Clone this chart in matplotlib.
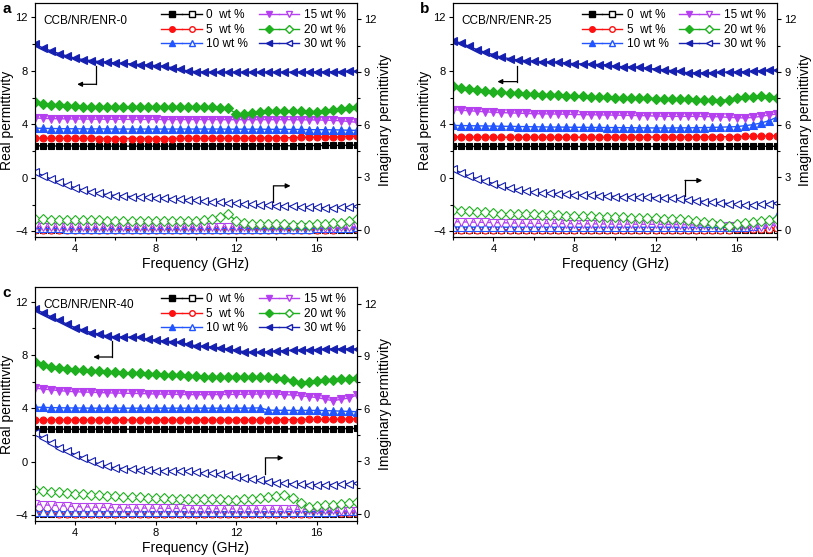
import numpy as np
import matplotlib
matplotlib.use('Agg')
import matplotlib.pyplot as plt
from matplotlib.lines import Line2D
from matplotlib.legend_handler import HandlerTuple
from matplotlib.ticker import MultipleLocator

plt.rcParams['font.family'] = ['Liberation Sans', 'DejaVu Sans']
plt.rcParams['font.size'] = 8
plt.rcParams['xtick.direction'] = 'out'
plt.rcParams['ytick.direction'] = 'out'

# frequency grid (GHz), 0.4 GHz step as measured
freq = np.round(np.arange(2.0, 18.01, 0.4), 1)

labels = ['0  wt %', '5  wt %', '10 wt %', '15 wt %', '20 wt %', '30 wt %']
colors = ['#000000', '#ff1010', '#2255ff', '#b540f0', '#1fb01f', '#1620b0']
markers = ['s', 'o', '^', 'v', 'D', '<']
msizes = [4.5, 5, 5.5, 5.5, 5, 5.5]

# ---------------- panel a : CCB/NR/ENR-0 ----------------
a_r0 = [2.40,2.39,2.38,2.38,2.38,2.38,2.37,2.37,2.37,2.37, 2.37,2.37,2.37,2.37,2.37,2.37,2.37,2.37,2.38,2.38,
        2.38,2.38,2.38,2.38,2.38,2.38,2.39,2.39,2.39,2.39, 2.40,2.40,2.40,2.41,2.41,2.41,2.42,2.42,2.43,2.44, 2.45]
a_r5 = [2.98,2.97,2.96,2.96,2.95,2.95,2.95,2.95,2.94,2.94, 2.94,2.94,2.94,2.94,2.94,2.94,2.94,2.94,2.95,2.95,
        2.95,2.95,2.95,2.95,2.96,2.96,2.97,2.97,2.98,2.99, 3.00,3.00,3.01,3.02,3.03,3.04,3.05,3.06,3.08,3.10, 3.12]
a_r10 = [3.72,3.70,3.69,3.68,3.67,3.67,3.66,3.66,3.66,3.66, 3.65,3.65,3.65,3.65,3.65,3.65,3.65,3.65,3.65,3.65,
         3.65,3.65,3.65,3.65,3.64,3.64,3.64,3.64,3.64,3.63, 3.63,3.63,3.62,3.62,3.61,3.60,3.60,3.59,3.58,3.56, 3.55]
a_r15 = [4.48,4.45,4.43,4.42,4.41,4.40,4.40,4.39,4.39,4.38, 4.38,4.38,4.37,4.37,4.37,4.37,4.36,4.36,4.36,4.36,
         4.36,4.36,4.36,4.35,4.35,4.35,4.35,4.35,4.35,4.35, 4.35,4.35,4.35,4.34,4.34,4.33,4.32,4.30,4.27,4.22, 4.15]
a_r20 = [5.65,5.55,5.47,5.42,5.38,5.35,5.33,5.32,5.31,5.30, 5.30,5.29,5.29,5.28,5.28,5.28,5.27,5.27,5.27,5.27,
         5.27,5.27,5.28,5.26,5.20,4.80,4.78,4.85,4.92,4.97, 5.00,5.00,5.00,4.98,4.95,4.95,5.02,5.08,5.15,5.22, 5.30]
a_r30 = [10.00,9.72,9.50,9.30,9.12,8.95,8.85,8.77,8.70,8.65, 8.60,8.56,8.52,8.48,8.44,8.40,8.35,8.25,8.12,8.00,
         7.95,7.92,7.90,7.90,7.90,7.90,7.90,7.90,7.90,7.90, 7.90,7.91,7.91,7.92,7.92,7.92,7.93,7.94,7.95,7.96, 7.97]
a_i0 = [0.00]*41
a_i5 = [0.02,0.02,0.01,0.01,0.01,0.01,0.01,0.01,0.01,0.01, 0.01,0.01,0.01,0.01,0.01,0.01,0.01,0.01,0.01,0.01,
        0.01,0.01,0.01,0.01,0.01,0.01,0.01,0.01,0.01,0.01, 0.01,0.01,0.01,0.01,0.01,0.02,0.02,0.02,0.03,0.03, 0.04]
a_i10 = [0.10,0.09,0.09,0.09,0.08,0.08,0.08,0.08,0.08,0.08, 0.08,0.08,0.08,0.08,0.08,0.08,0.08,0.08,0.08,0.08,
         0.08,0.08,0.08,0.08,0.08,0.08,0.08,0.08,0.08,0.08, 0.08,0.08,0.08,0.08,0.08,0.09,0.09,0.10,0.11,0.12, 0.14]
a_i15 = [0.20,0.19,0.19,0.18,0.18,0.18,0.18,0.18,0.18,0.18, 0.18,0.18,0.18,0.18,0.18,0.18,0.18,0.18,0.18,0.18,
         0.18,0.18,0.18,0.18,0.18,0.18,0.17,0.17,0.17,0.17, 0.17,0.17,0.16,0.16,0.15,0.14,0.13,0.13,0.14,0.16, 0.20]
a_i20 = [0.62,0.60,0.58,0.57,0.56,0.55,0.55,0.54,0.54,0.53, 0.53,0.52,0.52,0.52,0.51,0.51,0.51,0.51,0.51,0.51,
         0.52,0.54,0.60,0.72,0.90,0.52,0.40,0.35,0.33,0.32, 0.32,0.31,0.30,0.30,0.30,0.31,0.33,0.37,0.42,0.50, 0.60]
a_i30 = [3.30,3.10,2.90,2.72,2.55,2.40,2.27,2.17,2.08,2.01, 1.96,1.93,1.90,1.88,1.86,1.84,1.81,1.78,1.75,1.72,
         1.68,1.64,1.60,1.57,1.54,1.51,1.48,1.45,1.43,1.41, 1.38,1.36,1.34,1.32,1.30,1.28,1.27,1.27,1.28,1.31, 1.35]

# ---------------- panel b : CCB/NR/ENR-25 ----------------
b_r0 = [2.36,2.35,2.35,2.35,2.35,2.35,2.35,2.35,2.35,2.35, 2.35,2.35,2.35,2.35,2.35,2.35,2.35,2.35,2.35,2.35,
        2.35,2.35,2.35,2.35,2.35,2.35,2.35,2.35,2.35,2.35, 2.35,2.35,2.35,2.35,2.35,2.35,2.35,2.35,2.36,2.36, 2.36]
b_r5 = [3.07,3.06,3.05,3.05,3.05,3.04,3.04,3.04,3.04,3.04, 3.04,3.04,3.04,3.04,3.04,3.04,3.04,3.04,3.04,3.04,
        3.04,3.04,3.05,3.05,3.05,3.05,3.05,3.05,3.06,3.06, 3.06,3.07,3.07,3.08,3.08,3.09,3.10,3.11,3.12,3.14, 3.16]
b_r10 = [3.93,3.91,3.90,3.89,3.88,3.87,3.86,3.85,3.84,3.83, 3.82,3.81,3.80,3.80,3.79,3.78,3.78,3.77,3.77,3.76,
         3.76,3.75,3.75,3.74,3.74,3.73,3.73,3.73,3.74,3.74, 3.75,3.76,3.77,3.79,3.81,3.83,3.90,3.98,4.10,4.28, 4.55]
b_r15 = [5.10,5.06,5.02,4.98,4.94,4.90,4.88,4.86,4.84,4.82, 4.80,4.79,4.78,4.77,4.76,4.74,4.73,4.72,4.71,4.70,
         4.69,4.68,4.67,4.66,4.65,4.62,4.61,4.60,4.60,4.60, 4.60,4.59,4.58,4.56,4.53,4.50,4.48,4.52,4.60,4.70, 4.78]
b_r20 = [6.85,6.75,6.68,6.60,6.52,6.44,6.40,6.36,6.33,6.30, 6.26,6.23,6.20,6.17,6.14,6.11,6.09,6.06,6.04,6.02,
         6.00,5.98,5.97,5.96,5.95,5.93,5.92,5.91,5.90,5.88, 5.86,5.82,5.80,5.78,5.86,5.96,6.03,6.07,6.10,6.05, 5.98]
b_r30 = [10.26,10.09,9.84,9.59,9.39,9.22,9.02,8.92,8.82,8.77, 8.72,8.69,8.67,8.64,8.59,8.54,8.52,8.50,8.48,8.45,
         8.34,8.32,8.29,8.27,8.20,8.14,8.09,8.02,7.97,7.85, 7.85,7.86,7.88,7.90,7.91,7.92,7.95,7.98,8.02,8.04, 8.05]
b_i0 = [0.00]*41
b_i5 = [0.01,0.01,0.01,0.01,0.01,0.01,0.01,0.01,0.01,0.01, 0.01,0.01,0.01,0.01,0.01,0.01,0.01,0.01,0.01,0.01,
        0.01,0.01,0.01,0.01,0.01,0.01,0.01,0.01,0.01,0.01, 0.01,0.01,0.02,0.02,0.02,0.03,0.03,0.04,0.05,0.07, 0.10]
b_i10 = [0.17,0.17,0.16,0.16,0.16,0.16,0.16,0.15,0.15,0.15, 0.15,0.15,0.15,0.15,0.15,0.15,0.15,0.15,0.15,0.15,
         0.15,0.15,0.15,0.15,0.15,0.15,0.15,0.15,0.15,0.15, 0.15,0.15,0.15,0.15,0.15,0.16,0.18,0.22,0.32,0.50, 0.80]
b_i15 = [0.47,0.46,0.45,0.44,0.43,0.42,0.41,0.40,0.39,0.38, 0.38,0.37,0.37,0.37,0.36,0.36,0.35,0.35,0.34,0.34,
         0.33,0.33,0.33,0.32,0.32,0.32,0.31,0.31,0.30,0.29, 0.28,0.27,0.26,0.25,0.24,0.23,0.21,0.18,0.17,0.22, 0.28]
b_i20 = [1.12,1.09,1.06,1.04,1.00,0.95,0.93,0.92,0.91,0.90, 0.89,0.87,0.85,0.83,0.82,0.80,0.79,0.78,0.76,0.75,
         0.74,0.72,0.70,0.69,0.68,0.66,0.64,0.62,0.60,0.56, 0.51,0.46,0.42,0.35,0.21,0.36,0.42,0.46,0.51,0.56, 0.61]
b_i30 = [3.49,3.26,3.07,2.92,2.79,2.64,2.50,2.37,2.30,2.22, 2.14,2.11,2.09,2.07,2.03,1.99,1.98,1.97,1.96,1.95,
         1.90,1.89,1.89,1.88,1.86,1.84,1.82,1.80,1.78,1.72, 1.67,1.62,1.58,1.55,1.50,1.46,1.42,1.44,1.46,1.50, 1.56]

# ---------------- panel c : CCB/NR/ENR-40 ----------------
c_r0 = [2.46,2.46,2.45,2.45,2.45,2.45,2.45,2.45,2.45,2.45, 2.45,2.45,2.45,2.45,2.45,2.45,2.45,2.45,2.45,2.45,
        2.45,2.45,2.45,2.45,2.46,2.46,2.46,2.46,2.46,2.46, 2.47,2.47,2.47,2.47,2.48,2.48,2.48,2.48,2.49,2.49, 2.50]
c_r5 = [3.16,3.15,3.15,3.14,3.14,3.14,3.14,3.14,3.14,3.14, 3.14,3.14,3.14,3.14,3.14,3.14,3.14,3.14,3.14,3.14,
        3.14,3.14,3.14,3.14,3.15,3.15,3.15,3.15,3.15,3.16, 3.16,3.16,3.17,3.17,3.18,3.18,3.19,3.19,3.20,3.21, 3.22]
c_r10 = [4.10,4.08,4.06,4.05,4.04,4.03,4.03,4.02,4.02,4.02, 4.02,4.02,4.02,4.02,4.02,4.02,4.02,4.02,4.02,4.02,
         4.02,4.02,4.02,4.02,4.02,4.02,4.02,4.03,4.04,3.88, 3.86,3.86,3.85,3.85,3.85,3.85,3.84,3.82,3.80,3.78, 3.75]
c_r15 = [5.53,5.45,5.40,5.33,5.29,5.25,5.23,5.21,5.19,5.17, 5.15,5.14,5.13,5.12,5.10,5.08,5.07,5.06,5.05,5.04,
         5.03,5.03,5.04,5.04,5.05,5.05,5.06,5.07,5.08,5.08, 5.07,5.04,5.00,4.95,4.88,4.82,4.70,4.58,4.68,4.78, 5.00]
c_r20 = [7.44,7.27,7.12,7.02,6.95,6.87,6.84,6.80,6.77,6.74, 6.70,6.68,6.66,6.64,6.61,6.57,6.54,6.51,6.48,6.44,
         6.40,6.39,6.38,6.38,6.38,6.37,6.37,6.37,6.36,6.32, 6.27,6.20,6.07,5.93,6.00,6.07,6.10,6.14,6.18,6.22, 6.25]
c_r30 = [11.42,11.17,10.85,10.60,10.30,10.05,9.86,9.68,9.56,9.43, 9.36,9.34,9.33,9.31,9.20,9.11,9.05,9.00,8.94,8.82,
         8.69,8.64,8.59,8.54,8.45,8.36,8.24,8.19,8.20,8.25, 8.31,8.33,8.35,8.36,8.38,8.41,8.43,8.45,8.46,8.45, 8.44]
c_i0 = [0.00]*41
c_i5 = [0.03,0.03,0.03,0.02,0.02,0.02,0.02,0.02,0.02,0.02, 0.02,0.02,0.02,0.02,0.02,0.02,0.02,0.02,0.02,0.02,
        0.02,0.02,0.02,0.02,0.02,0.02,0.02,0.02,0.02,0.02, 0.02,0.02,0.02,0.02,0.02,0.03,0.03,0.03,0.04,0.04, 0.05]
c_i10 = [0.14,0.13,0.13,0.13,0.12,0.12,0.12,0.12,0.12,0.12, 0.12,0.12,0.12,0.12,0.12,0.12,0.12,0.12,0.12,0.12,
         0.12,0.12,0.12,0.12,0.12,0.12,0.12,0.12,0.12,0.13, 0.14,0.14,0.14,0.14,0.13,0.13,0.13,0.14,0.15,0.16, 0.18]
c_i15 = [0.55,0.52,0.50,0.48,0.45,0.42,0.41,0.40,0.38,0.37, 0.36,0.35,0.35,0.34,0.34,0.33,0.33,0.32,0.32,0.31,
         0.31,0.30,0.30,0.30,0.29,0.29,0.29,0.29,0.29,0.28, 0.28,0.28,0.27,0.26,0.25,0.23,0.21,0.20,0.19,0.18, 0.17]
c_i20 = [1.38,1.32,1.28,1.24,1.20,1.15,1.12,1.09,1.06,1.03, 1.00,0.98,0.96,0.94,0.92,0.90,0.89,0.88,0.87,0.87,
         0.86,0.85,0.84,0.83,0.82,0.80,0.83,0.88,0.92,0.97, 1.02,1.08,0.92,0.65,0.42,0.46,0.52,0.53,0.55,0.60, 0.67]
c_i30 = [4.63,4.31,4.02,3.77,3.58,3.39,3.20,3.00,2.85,2.72, 2.62,2.59,2.56,2.53,2.50,2.47,2.46,2.45,2.44,2.43,
         2.37,2.35,2.32,2.28,2.20,2.09,2.03,1.97,1.91,1.85, 1.78,1.74,1.72,1.70,1.68,1.67,1.67,1.68,1.70,1.73, 1.76]

panels = [
    ('a', 'CCB/NR/ENR-0', [a_r0, a_r5, a_r10, a_r15, a_r20, a_r30], [a_i0, a_i5, a_i10, a_i15, a_i20, a_i30],
     [(5.05, 8.4), (5.05, 7.0), (4.1, 7.0)], [(13.85, -1.8), (13.85, -0.6), (14.7, -0.6)]),
    ('b', 'CCB/NR/ENR-25', [b_r0, b_r5, b_r10, b_r15, b_r20, b_r30], [b_i0, b_i5, b_i10, b_i15, b_i20, b_i30],
     [(5.15, 8.35), (5.15, 7.2), (4.2, 7.2)], [(13.45, -1.35), (13.45, -0.2), (14.3, -0.2)]),
    ('c', 'CCB/NR/ENR-40', [c_r0, c_r5, c_r10, c_r15, c_r20, c_r30], [c_i0, c_i5, c_i10, c_i15, c_i20, c_i30],
     [(5.85, 9.05), (5.85, 7.85), (4.9, 7.85)], [(13.45, -0.9), (13.45, 0.3), (14.35, 0.3)]),
]

# axes boxes in figure fraction [left, bottom, width, height]
boxes = [[0.043, 0.574, 0.396, 0.421],
         [0.557, 0.574, 0.399, 0.421],
         [0.043, 0.064, 0.396, 0.421]]

fig = plt.figure(figsize=(8.13, 5.57), dpi=100)

for (letter, name, real, imag, larrow, rarrow), box in zip(panels, boxes):
    ax = fig.add_axes(box)
    ax2 = ax.twinx()
    for k in range(6):
        ax.plot(freq, real[k], '-', color=colors[k], marker=markers[k], markersize=msizes[k],
                linewidth=1, markeredgewidth=0.8)
        ax2.plot(freq, imag[k], '-', color=colors[k], marker=markers[k], markersize=msizes[k],
                 linewidth=1, markeredgewidth=0.8, markerfacecolor='white')
    ax.set_xlim(2, 18)
    ax.set_ylim(-4.45, 13.1)
    ax2.set_ylim(-0.42, 12.95)
    ax.xaxis.set_major_locator(MultipleLocator(4))
    ax.xaxis.set_minor_locator(MultipleLocator(2))
    ax.yaxis.set_major_locator(MultipleLocator(4))
    ax.yaxis.set_minor_locator(MultipleLocator(2))
    ax2.yaxis.set_major_locator(MultipleLocator(3))
    ax2.yaxis.set_minor_locator(MultipleLocator(1.5))
    for a in (ax, ax2):
        a.tick_params(which='major', length=3, width=0.8, labelsize=8, pad=2)
        a.tick_params(which='minor', length=2, width=0.8)
    ax.set_xlabel('Frequency (GHz)', fontsize=10, labelpad=2)
    ax.set_ylabel('Real permittivity', fontsize=10, labelpad=1)
    ax2.set_ylabel('Imaginary permittivity', fontsize=10, labelpad=1)

    # pointer arrows
    lx, ly = zip(*larrow)
    ax.plot(lx[:2], ly[:2], color='black', linewidth=0.9)
    ax.annotate('', xy=larrow[2], xytext=larrow[1],
                arrowprops=dict(arrowstyle='-|>', color='black', lw=0.9, mutation_scale=7, shrinkA=0, shrinkB=0))
    rx, ry = zip(*rarrow)
    ax.plot(rx[:2], ry[:2], color='black', linewidth=0.9)
    ax.annotate('', xy=rarrow[2], xytext=rarrow[1],
                arrowprops=dict(arrowstyle='-|>', color='black', lw=0.9, mutation_scale=7, shrinkA=0, shrinkB=0))

    ax.text(0.025, 0.95, name, transform=ax.transAxes, fontsize=8.5, va='top', ha='left')
    fig.text(box[0] - 0.04, box[1] + box[3] + 0.002, letter, fontsize=11, fontweight='bold',
             va='top', ha='left')

    handles = []
    for k in range(6):
        h1 = Line2D([], [], color=colors[k], marker=markers[k], markersize=4, linewidth=1)
        h2 = Line2D([], [], color=colors[k], marker=markers[k], markersize=4, linewidth=1,
                    markerfacecolor='white')
        handles.append((h1, h2))
    ax.legend(handles, labels, ncol=2, loc='upper right', bbox_to_anchor=(0.985, 1.0),
              frameon=False, fontsize=8.5, handlelength=3.4, handletextpad=0.4,
              columnspacing=0.9, labelspacing=0.2, borderaxespad=0.15,
              handler_map={tuple: HandlerTuple(ndivide=None, pad=0)})

fig.savefig('out.png', dpi=100)
